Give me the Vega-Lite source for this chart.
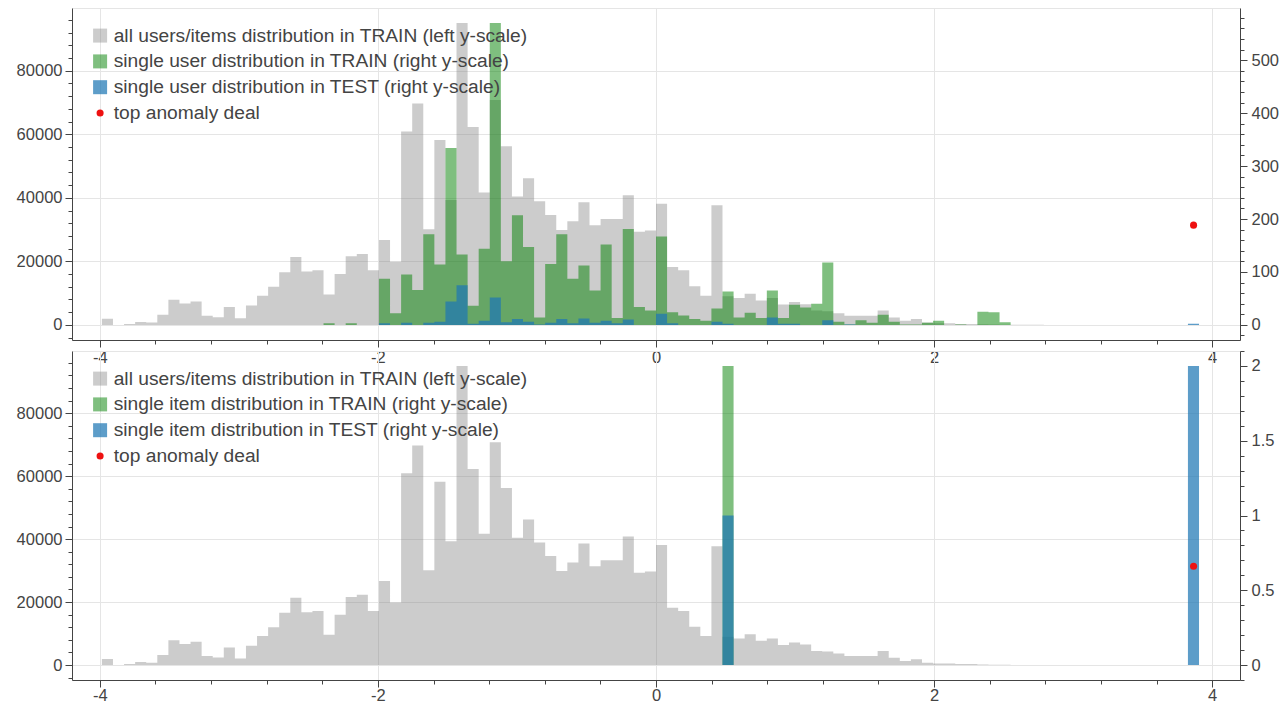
{
  "$schema": "https://vega.github.io/schema/vega-lite/v6.json",
  "padding": {"left": 15, "top": 7, "right": 5, "bottom": 0},
  "bounds": "flush",
  "spacing": 11,
  "config": {
    "font": "Liberation Sans",
    "view": {"stroke": "#e5e5e5"},
    "axis": {"labelFont": "Liberation Sans", "labelFontSize": 16.5, "labelColor": "#444444", "domainColor": "#444444", "tickColor": "#444444", "gridColor": "#e5e5e5", "domainWidth": 1, "tickWidth": 1, "labelOverlap": false, "labelFlush": false},
    "legend": {"labelFont": "Liberation Sans"}
  },
  "datasets": {
    "all": [
      {"a": -3.985, "n": 1900},
      {"a": -3.9053, "n": 0},
      {"a": -3.8256, "n": 300},
      {"a": -3.7459, "n": 950},
      {"a": -3.6662, "n": 730},
      {"a": -3.5865, "n": 3200},
      {"a": -3.5068, "n": 7900},
      {"a": -3.4271, "n": 6700},
      {"a": -3.3474, "n": 7400},
      {"a": -3.2677, "n": 2850},
      {"a": -3.188, "n": 2400},
      {"a": -3.1083, "n": 5600},
      {"a": -3.0286, "n": 2100},
      {"a": -2.9489, "n": 6100},
      {"a": -2.8692, "n": 9200},
      {"a": -2.7895, "n": 12000},
      {"a": -2.7098, "n": 16600},
      {"a": -2.6301, "n": 21400},
      {"a": -2.5504, "n": 16800},
      {"a": -2.4707, "n": 17200},
      {"a": -2.391, "n": 9600},
      {"a": -2.3113, "n": 16000},
      {"a": -2.2316, "n": 21600},
      {"a": -2.1519, "n": 22300},
      {"a": -2.0722, "n": 17200},
      {"a": -1.9925, "n": 26700},
      {"a": -1.9128, "n": 19900},
      {"a": -1.8331, "n": 60900},
      {"a": -1.7534, "n": 69700},
      {"a": -1.6737, "n": 30100},
      {"a": -1.594, "n": 58200},
      {"a": -1.5143, "n": 39300},
      {"a": -1.4346, "n": 95000},
      {"a": -1.3549, "n": 62300},
      {"a": -1.2752, "n": 41700},
      {"a": -1.1955, "n": 70800},
      {"a": -1.1158, "n": 56200},
      {"a": -1.0361, "n": 40400},
      {"a": -0.9564, "n": 46200},
      {"a": -0.8767, "n": 38900},
      {"a": -0.797, "n": 34600},
      {"a": -0.7173, "n": 29900},
      {"a": -0.6376, "n": 32600},
      {"a": -0.5579, "n": 38600},
      {"a": -0.4782, "n": 31400},
      {"a": -0.3985, "n": 33300},
      {"a": -0.3188, "n": 33300},
      {"a": -0.2391, "n": 40800},
      {"a": -0.1594, "n": 29300},
      {"a": -0.0797, "n": 29700},
      {"a": 0, "n": 38100},
      {"a": 0.0797, "n": 18200},
      {"a": 0.1594, "n": 17200},
      {"a": 0.2391, "n": 12200},
      {"a": 0.3188, "n": 9200},
      {"a": 0.3985, "n": 37700},
      {"a": 0.4782, "n": 9000},
      {"a": 0.5579, "n": 8450},
      {"a": 0.6376, "n": 9800},
      {"a": 0.7173, "n": 7700},
      {"a": 0.797, "n": 8450},
      {"a": 0.8767, "n": 6400},
      {"a": 0.9564, "n": 7200},
      {"a": 1.0361, "n": 6500},
      {"a": 1.1158, "n": 4500},
      {"a": 1.1955, "n": 4300},
      {"a": 1.2752, "n": 3700},
      {"a": 1.3549, "n": 2850},
      {"a": 1.4346, "n": 2850},
      {"a": 1.5143, "n": 2850},
      {"a": 1.594, "n": 4500},
      {"a": 1.6737, "n": 2330},
      {"a": 1.7534, "n": 1300},
      {"a": 1.8331, "n": 1850},
      {"a": 1.9128, "n": 740},
      {"a": 1.9925, "n": 530},
      {"a": 2.0722, "n": 530},
      {"a": 2.1519, "n": 320},
      {"a": 2.2316, "n": 320},
      {"a": 2.3113, "n": 210},
      {"a": 2.391, "n": 120},
      {"a": 2.4707, "n": 80},
      {"a": 2.5504, "n": 50},
      {"a": 2.6301, "n": 30},
      {"a": 2.7098, "n": 15},
      {"a": 2.7895, "n": 0}
    ],
    "uTrain": [
      {"a": -2.391, "n": 3},
      {"a": -2.3113, "n": 0},
      {"a": -2.2316, "n": 3},
      {"a": -2.1519, "n": 0},
      {"a": -1.9925, "n": 87},
      {"a": -1.9128, "n": 22},
      {"a": -1.8331, "n": 95},
      {"a": -1.7534, "n": 66},
      {"a": -1.6737, "n": 171},
      {"a": -1.594, "n": 114},
      {"a": -1.5143, "n": 334},
      {"a": -1.4346, "n": 133},
      {"a": -1.3549, "n": 36},
      {"a": -1.2752, "n": 144},
      {"a": -1.1955, "n": 570},
      {"a": -1.1158, "n": 120},
      {"a": -1.0361, "n": 207},
      {"a": -0.9564, "n": 147},
      {"a": -0.8767, "n": 14},
      {"a": -0.797, "n": 115},
      {"a": -0.7173, "n": 171},
      {"a": -0.6376, "n": 87},
      {"a": -0.5579, "n": 112},
      {"a": -0.4782, "n": 65},
      {"a": -0.3985, "n": 152},
      {"a": -0.3188, "n": 13},
      {"a": -0.2391, "n": 181},
      {"a": -0.1594, "n": 34},
      {"a": -0.0797, "n": 27},
      {"a": 0, "n": 167},
      {"a": 0.0797, "n": 24},
      {"a": 0.1594, "n": 18},
      {"a": 0.2391, "n": 11},
      {"a": 0.3188, "n": 8},
      {"a": 0.3985, "n": 31},
      {"a": 0.4782, "n": 63},
      {"a": 0.5579, "n": 14},
      {"a": 0.6376, "n": 23},
      {"a": 0.7173, "n": 13},
      {"a": 0.797, "n": 65},
      {"a": 0.8767, "n": 13},
      {"a": 0.9564, "n": 38},
      {"a": 1.0361, "n": 33},
      {"a": 1.1158, "n": 40},
      {"a": 1.1955, "n": 118},
      {"a": 1.2752, "n": 6},
      {"a": 1.3549, "n": 1},
      {"a": 1.4346, "n": 9},
      {"a": 1.5143, "n": 4},
      {"a": 1.594, "n": 19},
      {"a": 1.6737, "n": 6},
      {"a": 1.7534, "n": 1},
      {"a": 1.8331, "n": 1},
      {"a": 1.9128, "n": 4},
      {"a": 1.9925, "n": 8},
      {"a": 2.0722, "n": 0},
      {"a": 2.1519, "n": 1},
      {"a": 2.2316, "n": 0},
      {"a": 2.3113, "n": 25},
      {"a": 2.391, "n": 24},
      {"a": 2.4707, "n": 5},
      {"a": 2.5504, "n": 0}
    ],
    "uTest": [
      {"a": -1.9925, "n": 3},
      {"a": -1.9128, "n": 0},
      {"a": -1.8331, "n": 4},
      {"a": -1.7534, "n": 0},
      {"a": -1.6737, "n": 4},
      {"a": -1.594, "n": 6},
      {"a": -1.5143, "n": 44},
      {"a": -1.4346, "n": 75},
      {"a": -1.3549, "n": 2},
      {"a": -1.2752, "n": 8},
      {"a": -1.1955, "n": 52},
      {"a": -1.1158, "n": 5},
      {"a": -1.0361, "n": 11},
      {"a": -0.9564, "n": 6},
      {"a": -0.8767, "n": 1},
      {"a": -0.797, "n": 4},
      {"a": -0.7173, "n": 11},
      {"a": -0.6376, "n": 3},
      {"a": -0.5579, "n": 12},
      {"a": -0.4782, "n": 4},
      {"a": -0.3985, "n": 8},
      {"a": -0.3188, "n": 3},
      {"a": -0.2391, "n": 10},
      {"a": -0.1594, "n": 0},
      {"a": 0, "n": 21},
      {"a": 0.0797, "n": 3},
      {"a": 0.1594, "n": 0},
      {"a": 0.3985, "n": 6},
      {"a": 0.4782, "n": 2},
      {"a": 0.5579, "n": 0},
      {"a": 0.797, "n": 14},
      {"a": 0.8767, "n": 2},
      {"a": 0.9564, "n": 2},
      {"a": 1.0361, "n": 0},
      {"a": 1.1955, "n": 9},
      {"a": 1.2752, "n": 0},
      {"a": 1.3549, "n": 1},
      {"a": 1.4346, "n": 0},
      {"a": 3.8256, "n": 2},
      {"a": 3.9053, "n": 0}
    ],
    "iTrain": [
      {"a": 0.4782, "n": 2},
      {"a": 0.5579, "n": 0}
    ],
    "iTest": [
      {"a": 0.4782, "n": 1},
      {"a": 0.5579, "n": 0},
      {"a": 3.8256, "n": 2},
      {"a": 3.9053, "n": 0}
    ],
    "deal": [
      {"x": 3.866, "n": 31400}
    ]
  },
  "resolve": {"scale": {"color": "independent"}, "legend": {"color": "independent"}},
  "vconcat": [
    {
      "width": 1168,
      "height": 332,
      "resolve": {"scale": {"y": "independent"}},
      "layer": [
        {
          "data": {"name": "all"},
          "mark": {"type": "area", "interpolate": "step-after", "opacity": 1},
          "encoding": {
            "x": {"field": "a", "type": "quantitative", "scale": {"domain": [-4.2, 4.2], "nice": false, "zero": false},
              "axis": {"title": null, "values": [-4, -3.6, -3.2, -2.8, -2.4, -2, -1.6, -1.2, -0.8, -0.4, 0, 0.4, 0.8, 1.2, 1.6, 2, 2.4, 2.8, 3.2, 3.6, 4],
                "labelExpr": "abs(round(datum.value*10)) % 20 === 0 ? '' + round(datum.value) : ''",
                "tickSize": {"condition": {"test": "abs(round(datum.value*10)) % 20 === 0", "value": 7}, "value": 4},
                "grid": true,
                "gridOpacity": {"condition": {"test": "abs(round(datum.value*10)) % 20 === 0", "value": 1}, "value": 0},
                "labelPadding": 2}},
            "y": {"field": "n", "type": "quantitative", "stack": null, "scale": {"domain": [-4750, 99750], "nice": false, "zero": false},
              "axis": {"title": null, "orient": "left", "values": [-4000, 0, 4000, 8000, 12000, 16000, 20000, 24000, 28000, 32000, 36000, 40000, 44000, 48000, 52000, 56000, 60000, 64000, 68000, 72000, 76000, 80000, 84000, 88000, 92000, 96000],
                "labelExpr": "datum.value % 20000 === 0 ? '' + datum.value : ''",
                "tickSize": {"condition": {"test": "datum.value % 20000 === 0", "value": 7}, "value": 4},
                "grid": true,
                "gridOpacity": {"condition": {"test": "datum.value % 20000 === 0", "value": 1}, "value": 0},
                "labelPadding": 3}},
            "y2": {"datum": 0},
            "color": {"datum": "all users/items distribution in TRAIN (left y-scale)", "type": "nominal",
              "scale": {"domain": ["all users/items distribution in TRAIN (left y-scale)", "single user distribution in TRAIN (right y-scale)", "single user distribution in TEST (right y-scale)", "top anomaly deal"],
                "range": ["rgba(128,128,128,0.4)", "rgba(0,128,0,0.5)", "rgba(31,119,180,0.72)", "#ee1111"]},
              "legend": {"title": null, "orient": "none", "legendX": 18.5, "legendY": 18, "padding": 0, "labelFontSize": 19.2, "labelColor": "#444444", "labelLimit": 1000, "labelOffset": 4, "rowPadding": 5.8, "symbolType": "square", "symbolSize": 196, "symbolStrokeWidth": 0, "symbolOpacity": 1,
                "encode": {"symbols": {"update": {"shape": {"signal": "datum.value === 'top anomaly deal' ? 'circle' : 'square'"}, "size": {"signal": "datum.value === 'top anomaly deal' ? 50 : 196"}}}}}}
          }
        },
        {
          "data": {"name": "uTrain"},
          "mark": {"type": "area", "interpolate": "step-after", "opacity": 1},
          "encoding": {
            "x": {"field": "a", "type": "quantitative", "scale": {"domain": [-4.2, 4.2], "nice": false, "zero": false}, "axis": {"title": null}},
            "y": {"field": "n", "type": "quantitative", "stack": null, "scale": {"domain": [-28.5, 598.5], "nice": false, "zero": false},
              "axis": {"title": null, "orient": "right", "values": [-20, 0, 20, 40, 60, 80, 100, 120, 140, 160, 180, 200, 220, 240, 260, 280, 300, 320, 340, 360, 380, 400, 420, 440, 460, 480, 500, 520, 540, 560, 580],
                "labelExpr": "datum.value % 100 === 0 ? '' + datum.value : ''",
                "tickSize": {"condition": {"test": "datum.value % 100 === 0", "value": 7}, "value": 4},
                "grid": false, "labelPadding": 4}},
            "y2": {"datum": 0},
            "color": {"datum": "single user distribution in TRAIN (right y-scale)", "type": "nominal"}
          }
        },
        {
          "data": {"name": "uTest"},
          "mark": {"type": "area", "interpolate": "step-after", "opacity": 1},
          "encoding": {
            "x": {"field": "a", "type": "quantitative", "scale": {"domain": [-4.2, 4.2], "nice": false, "zero": false}, "axis": {"title": null}},
            "y": {"field": "n", "type": "quantitative", "stack": null, "scale": {"domain": [-28.5, 598.5], "nice": false, "zero": false}, "axis": null},
            "y2": {"datum": 0},
            "color": {"datum": "single user distribution in TEST (right y-scale)", "type": "nominal"}
          }
        },
        {
          "data": {"name": "deal"},
          "mark": {"type": "point", "filled": true, "size": 50, "opacity": 1},
          "encoding": {
            "x": {"field": "x", "type": "quantitative", "scale": {"domain": [-4.2, 4.2], "nice": false, "zero": false}, "axis": {"title": null}},
            "y": {"field": "n", "type": "quantitative", "scale": {"domain": [-4750, 99750], "nice": false, "zero": false}, "axis": null},
            "color": {"datum": "top anomaly deal", "type": "nominal"}
          }
        }
      ]
    },
    {
      "width": 1168,
      "height": 329,
      "resolve": {"scale": {"y": "independent"}},
      "layer": [
        {
          "data": {"name": "all"},
          "mark": {"type": "area", "interpolate": "step-after", "opacity": 1},
          "encoding": {
            "x": {"field": "a", "type": "quantitative", "scale": {"domain": [-4.2, 4.2], "nice": false, "zero": false},
              "axis": {"title": null, "values": [-4, -3.6, -3.2, -2.8, -2.4, -2, -1.6, -1.2, -0.8, -0.4, 0, 0.4, 0.8, 1.2, 1.6, 2, 2.4, 2.8, 3.2, 3.6, 4],
                "labelExpr": "abs(round(datum.value*10)) % 20 === 0 ? '' + round(datum.value) : ''",
                "tickSize": {"condition": {"test": "abs(round(datum.value*10)) % 20 === 0", "value": 7}, "value": 4},
                "grid": true,
                "gridOpacity": {"condition": {"test": "abs(round(datum.value*10)) % 20 === 0", "value": 1}, "value": 0},
                "labelPadding": 0}},
            "y": {"field": "n", "type": "quantitative", "stack": null, "scale": {"domain": [-4750, 99750], "nice": false, "zero": false},
              "axis": {"title": null, "orient": "left", "values": [-4000, 0, 4000, 8000, 12000, 16000, 20000, 24000, 28000, 32000, 36000, 40000, 44000, 48000, 52000, 56000, 60000, 64000, 68000, 72000, 76000, 80000, 84000, 88000, 92000, 96000],
                "labelExpr": "datum.value % 20000 === 0 ? '' + datum.value : ''",
                "tickSize": {"condition": {"test": "datum.value % 20000 === 0", "value": 7}, "value": 4},
                "grid": true,
                "gridOpacity": {"condition": {"test": "datum.value % 20000 === 0", "value": 1}, "value": 0},
                "labelPadding": 3}},
            "y2": {"datum": 0},
            "color": {"datum": "all users/items distribution in TRAIN (left y-scale)", "type": "nominal",
              "scale": {"domain": ["all users/items distribution in TRAIN (left y-scale)", "single item distribution in TRAIN (right y-scale)", "single item distribution in TEST (right y-scale)", "top anomaly deal"],
                "range": ["rgba(128,128,128,0.4)", "rgba(0,128,0,0.5)", "rgba(31,119,180,0.72)", "#ee1111"]},
              "legend": {"title": null, "orient": "none", "legendX": 18.5, "legendY": 18, "padding": 0, "labelFontSize": 19.2, "labelColor": "#444444", "labelLimit": 1000, "labelOffset": 4, "rowPadding": 5.8, "symbolType": "square", "symbolSize": 196, "symbolStrokeWidth": 0, "symbolOpacity": 1,
                "encode": {"symbols": {"update": {"shape": {"signal": "datum.value === 'top anomaly deal' ? 'circle' : 'square'"}, "size": {"signal": "datum.value === 'top anomaly deal' ? 50 : 196"}}}}}}
          }
        },
        {
          "data": {"name": "iTrain"},
          "mark": {"type": "area", "interpolate": "step-after", "opacity": 1},
          "encoding": {
            "x": {"field": "a", "type": "quantitative", "scale": {"domain": [-4.2, 4.2], "nice": false, "zero": false}, "axis": {"title": null}},
            "y": {"field": "n", "type": "quantitative", "stack": null, "scale": {"domain": [-0.1, 2.1], "nice": false, "zero": false},
              "axis": {"title": null, "orient": "right", "values": [-0.1, 0, 0.1, 0.2, 0.3, 0.4, 0.5, 0.6, 0.7, 0.8, 0.9, 1, 1.1, 1.2, 1.3, 1.4, 1.5, 1.6, 1.7, 1.8, 1.9, 2, 2.1],
                "labelExpr": "round(datum.value*10) % 5 === 0 ? '' + round(datum.value*10)/10 : ''",
                "tickSize": {"condition": {"test": "round(datum.value*10) % 5 === 0", "value": 7}, "value": 4},
                "grid": false, "labelPadding": 4}},
            "y2": {"datum": 0},
            "color": {"datum": "single item distribution in TRAIN (right y-scale)", "type": "nominal"}
          }
        },
        {
          "data": {"name": "iTest"},
          "mark": {"type": "area", "interpolate": "step-after", "opacity": 1},
          "encoding": {
            "x": {"field": "a", "type": "quantitative", "scale": {"domain": [-4.2, 4.2], "nice": false, "zero": false}, "axis": {"title": null}},
            "y": {"field": "n", "type": "quantitative", "stack": null, "scale": {"domain": [-0.1, 2.1], "nice": false, "zero": false}, "axis": null},
            "y2": {"datum": 0},
            "color": {"datum": "single item distribution in TEST (right y-scale)", "type": "nominal"}
          }
        },
        {
          "data": {"name": "deal"},
          "mark": {"type": "point", "filled": true, "size": 50, "opacity": 1},
          "encoding": {
            "x": {"field": "x", "type": "quantitative", "scale": {"domain": [-4.2, 4.2], "nice": false, "zero": false}, "axis": {"title": null}},
            "y": {"field": "n", "type": "quantitative", "scale": {"domain": [-4750, 99750], "nice": false, "zero": false}, "axis": null},
            "color": {"datum": "top anomaly deal", "type": "nominal"}
          }
        }
      ]
    }
  ]
}
